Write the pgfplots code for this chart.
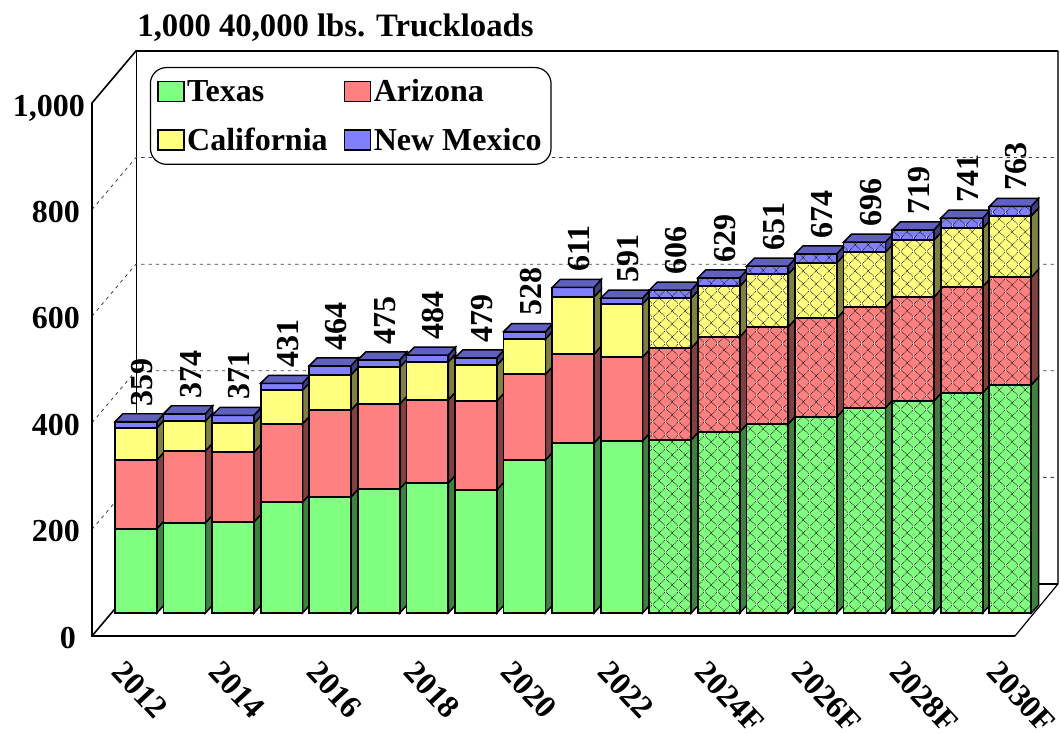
\documentclass[border=0pt]{standalone}
\usepackage{pgfplots}
\pgfplotsset{compat=1.18}
\usepackage{pgfplotstable}
\usepackage{fontspec}
\setmainfont{Liberation Serif}
\usetikzlibrary{patterns}
\definecolor{cG}{HTML}{80FF80}\definecolor{cGs}{HTML}{408040}
\definecolor{cR}{HTML}{FF8080}\definecolor{cRs}{HTML}{804040}
\definecolor{cY}{HTML}{FFFF80}\definecolor{cYs}{HTML}{808040}
\definecolor{cB}{HTML}{8080FF}\definecolor{cBs}{HTML}{404080}\definecolor{cBt}{HTML}{6060C0}
\definecolor{hc}{rgb}{0.1,0.1,0.1}
\pgfdeclarepatterninherentlycolored{xh}{\pgfqpoint{0pt}{0pt}}{\pgfqpoint{9.8pt}{9.8pt}}{\pgfqpoint{9.8pt}{9.8pt}}{%
  \pgfsetstrokecolor{hc}\pgfsetlinewidth{.55pt}\pgfsetdash{{.693pt}{.693pt}}{0pt}%
  \pgfpathmoveto{\pgfqpoint{0pt}{0pt}}\pgfpathlineto{\pgfqpoint{9.8pt}{9.8pt}}%
  \pgfpathmoveto{\pgfqpoint{0pt}{9.8pt}}\pgfpathlineto{\pgfqpoint{9.8pt}{0pt}}%
  \pgfusepath{stroke}}
\pgfplotstableread{
T A C N total
158 129 60 12 359
169 135 56 14 374
171 131 54 15 371
208 147 63 13 431
218 163 66 17 464
233 159 69 14 475
244 156 71 13 484
231 167 67 14 479
287 161 66 14 528
319 167 107 18 611
323 157 100 11 591
325 172 94 15 606
340 178 95 16 629
355 182 99 15 651
368 185 104 17 674
385 189 103 19 696
398 195 107 19 719
413 199 110 19 741
428 202 115 18 763
}\data
\tikzset{hatch/.style={postaction={pattern=xh}},
  nohatch/.style={}}
\newcommand\barbase{43}
\newcommand\seg[6]{% index, y0, height, front, side, hatch style
  \pgfmathsetmacro\xa{#1+0.472}\pgfmathsetmacro\xb{\xa+0.862}\pgfmathsetmacro\xc{\xb+0.150}
  \pgfmathsetmacro\ya{#2+\barbase}\pgfmathsetmacro\yb{\ya+#3}\pgfmathsetmacro\yc{\yb+15}\pgfmathsetmacro\yd{\ya+15}
  \edef\temp{\noexpand\addplot[forget plot,fill=#5,draw=black,line width=1.1pt,line join=miter] coordinates {(\xb,\ya)(\xc,\yd)(\xc,\yc)(\xb,\yb)} -- cycle;
  \noexpand\addplot[forget plot,fill=#4,#6] coordinates {(\xa,\ya)(\xb,\ya)(\xb,\yb)(\xa,\yb)} -- cycle;
  \noexpand\addplot[forget plot,draw=black,line width=1.3pt] coordinates {(\xa,\ya)(\xb,\ya)(\xb,\yb)(\xa,\yb)} -- cycle;}\temp}
\newcommand\tp[3]{% index, y top, hatch
  \pgfmathsetmacro\xa{#1+0.472}\pgfmathsetmacro\xb{\xa+0.862}\pgfmathsetmacro\xc{\xb+0.150}\pgfmathsetmacro\xd{\xa+0.165}
  \pgfmathsetmacro\yb{#2+\barbase}\pgfmathsetmacro\yc{\yb+15}
  \edef\temp{\noexpand\addplot[forget plot,fill=cBt,draw=black,line width=1.1pt] coordinates {(\xa,\yb)(\xd,\yc)(\xc,\yc)(\xb,\yb)} -- cycle;}\temp}
\begin{document}
\begin{tikzpicture}
\path[use as bounding box] (-69pt,-73.5pt) rectangle (726pt,477pt);
\begin{axis}[
  scale only axis, width=692.25pt, height=399.75pt, anchor=south west, at={(0,0)},
  xmin=0, xmax=19, ymin=0, ymax=1000, clip=false,
  axis line style={draw=none}, tick style={draw=none},
  /pgf/number format/assume math mode=true,
  /pgf/number format/1000 sep={,},
  font=\fontsize{24pt}{26pt}\bfseries\selectfont,
  xtick={0.5,2.5,...,18.5}, xticklabels={2012,2014,2016,2018,2020,2022,2024F,2026F,2028F,2030F},
  xticklabel style={rotate=-47,anchor=west,yshift=-14.5pt,xshift=14.4pt},
  ytick={0,200,400,600,800,1000},
  yticklabels={0\kern3pt,200,400,600,800,{\raisebox{-2.25pt}[\height][\depth]{1,000}\kern-3.75pt}},
  yticklabel style={anchor=east,xshift=-5.5pt,yshift=-1.5pt},
  title={1,000 40,000 lbs. Truckloads},
  title style={at={(axis description cs:0.049,1.127)},anchor=west,inner sep=0pt,font=\fontsize{24.5pt}{26pt}\bfseries\selectfont},
  legend columns=2,
  legend cell align=left,
  legend style={at={(axis cs:1.19,1000)},anchor=north west,yshift=27pt,draw=black,line width=.9pt,rounded corners=12pt,fill=white,
    inner xsep=5pt,inner ysep=7pt,
    /tikz/every even column/.append style={column sep=10pt},row sep=14pt},
  legend image code/.code={\draw[sharp corners,line width=1.1pt,fill=#1,draw=black] (-1pt,-7.5pt) rectangle (18.5pt,7.5pt);},
]
% walls
\addplot[forget plot,draw=black,line width=.6pt] coordinates {(0.905,97.6)(0.905,1097.6)};
\addplot[forget plot,draw=black!70,line width=.8pt] coordinates {(19.885,97.6)(19.885,1097.6)};
\foreach \v in {200,400,600,800}{
  \pgfmathsetmacro\vb{\v+97.6}
  \edef\temp{\noexpand\addplot[forget plot,draw=black!75,line width=.6pt,dash pattern=on 2.5pt off 3pt] coordinates {(0,\v)(0.905,\vb)(19.8,\vb)};}\temp}
\addplot[forget plot,draw=black,line width=1.2pt] coordinates {(0,0)(0.905,97.6)(19.885,97.6)};
\addplot[forget plot,draw=black,line width=.9pt] coordinates {(19,0)(19.885,97.6)};
\addplot[forget plot,draw=black,line width=1.2pt] coordinates {(19,0)(0,0)(0,1000)(0.905,1097.6)(19.885,1097.6)};
% bars
\pgfplotstablegetrowsof{\data}\pgfmathtruncatemacro\last{\pgfplotsretval-1}
\pgfplotsinvokeforeach{0,...,\last}{
  \pgfplotstablegetelem{#1}{T}\of\data\let\vT\pgfplotsretval
  \pgfplotstablegetelem{#1}{A}\of\data\let\vA\pgfplotsretval
  \pgfplotstablegetelem{#1}{C}\of\data\let\vC\pgfplotsretval
  \pgfplotstablegetelem{#1}{N}\of\data\let\vN\pgfplotsretval
  \ifnum#1>10 \def\hs{hatch}\else\def\hs{nohatch}\fi
  \pgfmathsetmacro\bA{\vT}\pgfmathsetmacro\bC{\vT+\vA}\pgfmathsetmacro\bN{\vT+\vA+\vC}\pgfmathsetmacro\bE{\vT+\vA+\vC+\vN}
  \seg{#1}{0}{\vT}{cG}{cGs}{\hs}
  \seg{#1}{\bA}{\vA}{cR}{cRs}{\hs}
  \seg{#1}{\bC}{\vC}{cY}{cYs}{\hs}
  \seg{#1}{\bN}{\vN}{cB}{cBs}{\hs}
  \tp{#1}{\bE}{}
}
% totals
\addplot[forget plot,draw=none,mark=none,
  nodes near coords,point meta=explicit,
  every node near coord/.style={rotate=90,anchor=west,inner sep=0pt,font=\fontsize{24pt}{26pt}\bfseries\selectfont,text=black}]
  table[x expr=\coordindex+1.03,y expr=\thisrow{total}+\barbase+29,meta=total]{\data};
% legend
\addlegendimage{cG}\addlegendentry{Texas}
\addlegendimage{cR}\addlegendentry{Arizona}
\addlegendimage{cY}\addlegendentry{California}
\addlegendimage{cB}\addlegendentry{New Mexico}
\end{axis}
\end{tikzpicture}
\end{document}
